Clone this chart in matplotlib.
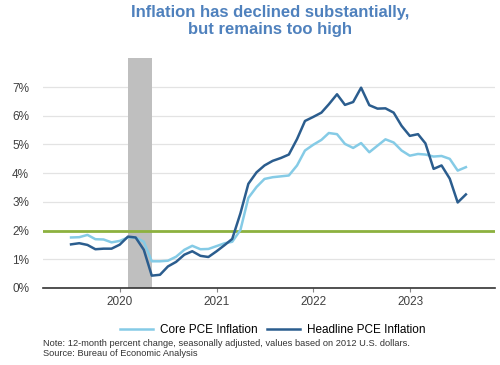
import numpy as np
import pandas as pd
import matplotlib
matplotlib.use("Agg")
import matplotlib.pyplot as plt
import matplotlib.dates as mdates

plt.rcParams['font.family'] = ['Liberation Sans', 'DejaVu Sans']

# monthly observations, Jun 2019 - Jul 2023 (plotted at month end)
months = pd.date_range('2019-06-30', '2023-07-31', freq='ME')

core_pce = [1.76, 1.77, 1.85, 1.70, 1.69, 1.59, 1.64,
            1.76, 1.76, 1.61, 0.93, 0.93, 0.95, 1.09, 1.33, 1.47, 1.35, 1.36, 1.46,
            1.56, 1.61, 2.02, 3.14, 3.52, 3.80, 3.86, 3.89, 3.92, 4.27, 4.79, 4.99,
            5.16, 5.40, 5.36, 5.02, 4.88, 5.05, 4.73, 4.96, 5.18, 5.07, 4.79, 4.61,
            4.67, 4.65, 4.58, 4.60, 4.50, 4.09, 4.21]

headline_pce = [1.52, 1.56, 1.50, 1.35, 1.37, 1.37, 1.51,
                1.79, 1.76, 1.33, 0.43, 0.46, 0.75, 0.91, 1.16, 1.28, 1.12, 1.08, 1.28,
                1.50, 1.71, 2.60, 3.63, 4.03, 4.27, 4.43, 4.53, 4.65, 5.19, 5.82, 5.96,
                6.11, 6.40, 6.75, 6.38, 6.48, 6.98, 6.37, 6.25, 6.26, 6.11, 5.65, 5.30,
                5.36, 5.04, 4.15, 4.27, 3.81, 2.98, 3.26]

target = 2.0
recession = ('2020-01-31', '2020-04-30')
y_ticks = [0, 1, 2, 3, 4, 5, 6, 7]

fig = plt.figure(figsize=(5, 3.65), dpi=100)
ax = fig.add_axes([0.086, 0.211, 0.904, 0.629])

ax.axvspan(pd.Timestamp(recession[0]), pd.Timestamp(recession[1]),
           color='#bfbfbf', lw=0, zorder=1)
ax.axhline(target, color='#8db13f', lw=2.0, zorder=2)
ax.plot(months, core_pce, color='#85cbe6', lw=1.8, label='Core PCE Inflation', zorder=3)
ax.plot(months, headline_pce, color='#2b5d8e', lw=1.8, label='Headline PCE Inflation', zorder=4)

ax.set_xlim(pd.Timestamp('2019-03-16'), pd.Timestamp('2023-11-18'))
ax.set_ylim(0, 8)
ax.set_yticks(y_ticks)
ax.set_yticklabels([f'{v}%' for v in y_ticks])
ax.yaxis.grid(True, color='#e3e3e3', lw=0.9)
ax.set_axisbelow(True)

ax.xaxis.set_major_locator(mdates.YearLocator())
ax.xaxis.set_major_formatter(mdates.DateFormatter('%Y'))

for s in ['top', 'right', 'left']:
    ax.spines[s].set_visible(False)
ax.spines['bottom'].set_color('#333333')
ax.spines['bottom'].set_linewidth(1.2)
ax.tick_params(axis='y', length=0, labelsize=8.5, labelcolor='#404040', pad=10)
ax.tick_params(axis='x', length=3, color='#888888', labelsize=8.5,
               labelcolor='#404040', pad=3)

fig.text(0.54, 0.985, 'Inflation has declined substantially,\nbut remains too high',
         ha='center', va='top', fontsize=12, fontweight='bold', color='#4f81bd',
         linespacing=1.15)

fig.legend(loc='center', bbox_to_anchor=(0.545, 0.095), ncol=2, frameon=False,
           fontsize=8.5, handlelength=2.8, columnspacing=0.8, handletextpad=0.6)

fig.text(0.086, 0.045, 'Note: 12-month percent change, seasonally adjusted, values based on 2012 U.S. dollars.\nSource: Bureau of Economic Analysis',
         ha='left', va='center', fontsize=6.7, color='#333333', linespacing=1.2)

fig.savefig('out.png', dpi=100)
